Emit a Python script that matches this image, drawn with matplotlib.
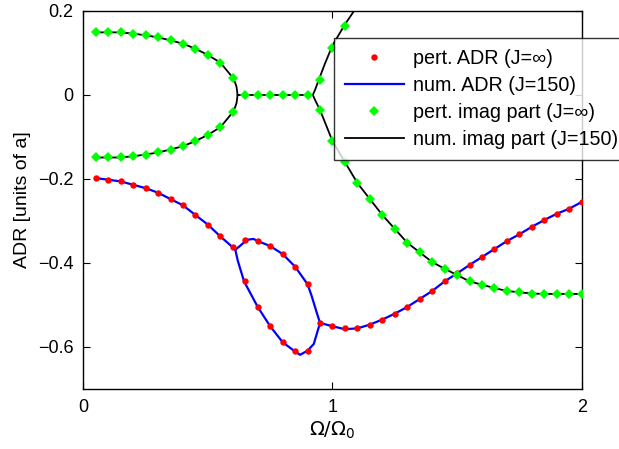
import numpy as np
import matplotlib
matplotlib.use("Agg")
import matplotlib.pyplot as plt

plt.rcParams['font.family'] = ['Liberation Sans', 'DejaVu Sans']

# perturbative ADR (J=inf), sampled every 0.05
x_pert_left = [0.05, 0.10, 0.15, 0.20, 0.25, 0.30, 0.35, 0.40, 0.45, 0.50, 0.55, 0.60]
adr_pert_left = [-0.198, -0.202, -0.206, -0.214, -0.222, -0.233, -0.248, -0.263,
                 -0.286, -0.309, -0.337, -0.363]
x_pert_loop = [0.65, 0.70, 0.75, 0.80, 0.85, 0.90]
adr_pert_upper = [-0.345, -0.348, -0.360, -0.379, -0.409, -0.451]
adr_pert_lower = [-0.444, -0.505, -0.551, -0.589, -0.609, -0.609]
x_pert_right = [0.95, 1.00, 1.05, 1.10, 1.15, 1.20, 1.25, 1.30, 1.35, 1.40, 1.45,
                1.50, 1.55, 1.60, 1.65, 1.70, 1.75, 1.80, 1.85, 1.90, 1.95, 2.00]
adr_pert_right = [-0.543, -0.550, -0.556, -0.555, -0.547, -0.535, -0.521, -0.505,
                  -0.486, -0.467, -0.444, -0.425, -0.405, -0.386, -0.367, -0.348,
                  -0.332, -0.314, -0.298, -0.283, -0.271, -0.255]

# numerical ADR (J=150): main branch and the lower half of the loop
x_num_a = (x_pert_left + [0.61, 0.63, 0.657, 0.683] + x_pert_loop[1:]
           + [0.917, 0.937] + x_pert_right)
adr_num_a = (adr_pert_left + [-0.369, -0.359, -0.345, -0.343] + adr_pert_upper[1:]
             + [-0.480, -0.519] + [-0.543, -0.551, -0.558, -0.556] + adr_pert_right[4:])
x_num_b = [0.61, 0.62, 0.645, 0.70, 0.75, 0.80, 0.845, 0.87, 0.90, 0.925, 0.95]
adr_num_b = [-0.369, -0.395, -0.444, -0.505, -0.551, -0.589, -0.609, -0.619,
             -0.609, -0.593, -0.543]

# perturbative imaginary part (J=inf)
im_pert_left = [0.149, 0.149, 0.149, 0.146, 0.142, 0.137, 0.130, 0.122,
                0.110, 0.095, 0.077, 0.041]
im_pert_mid = [0.0, 0.0, 0.0, 0.0, 0.0, 0.0]
x_pert_up = [0.95, 1.00, 1.05]
im_pert_up = [0.036, 0.111, 0.164]
im_pert_down = [-0.036, -0.110, -0.160, -0.210, -0.248, -0.286, -0.319, -0.352,
                -0.375, -0.398, -0.414, -0.429, -0.444, -0.452, -0.460, -0.467,
                -0.470, -0.473, -0.474, -0.474, -0.474, -0.474]

# numerical imaginary part (J=150)
x_im_left = x_pert_left + [0.61, 0.615, 0.619]
im_num_left = im_pert_left + [0.028, 0.019, 0.0]
x_im_mid = [0.619, 0.921]
im_num_mid = [0.0, 0.0]
x_im_right = [0.921, 0.93, 0.945, 0.97, 1.00, 1.05, 1.10]
im_num_up = [0.0, 0.012, 0.036, 0.075, 0.118, 0.168, 0.212]
x_im_down = [0.921, 0.93] + x_pert_right
im_num_down = [0.0, -0.012] + im_pert_down

fig = plt.figure(figsize=(6.19, 4.49), dpi=100)
ax = fig.add_axes([0.1346, 0.134, 0.8051, 0.8416])

red = dict(color='red', marker='o', ms=4.6, mew=0, ls='none')
green = dict(color='#00ff00', marker='D', ms=4.6, mew=0, ls='none')
blue = dict(color='blue', lw=1.6)
black = dict(color='black', lw=1.3)

ax.plot(x_pert_left, adr_pert_left, label='pert. ADR (J=\u221e)', zorder=4, **red)
ax.plot(x_num_a, adr_num_a, label='num. ADR (J=150)', zorder=3, **blue)
ax.plot(x_pert_left, im_pert_left, label='pert. imag part (J=\u221e)', zorder=4, **green)
ax.plot(x_im_left, im_num_left, label='num. imag part (J=150)', zorder=3, **black)

ax.plot(x_num_b, adr_num_b, zorder=3, **blue)
ax.plot(x_pert_loop, adr_pert_upper, zorder=4, **red)
ax.plot(x_pert_loop, adr_pert_lower, zorder=4, **red)
ax.plot(x_pert_right, adr_pert_right, zorder=4, **red)

ax.plot(x_im_left, [-v for v in im_num_left], zorder=3, **black)
ax.plot(x_im_mid, im_num_mid, zorder=3, **black)
ax.plot(x_im_right, im_num_up, zorder=3, **black)
ax.plot(x_im_down, im_num_down, zorder=3, **black)

ax.plot(x_pert_left, [-v for v in im_pert_left], zorder=4, **green)
ax.plot(x_pert_loop, im_pert_mid, zorder=4, **green)
ax.plot(x_pert_up, im_pert_up, zorder=4, **green)
ax.plot(x_pert_right, im_pert_down, zorder=4, **green)

ax.set_xlim(0, 2)
ax.set_ylim(-0.7, 0.2)
ax.set_xticks([0, 1, 2])
ax.set_yticks([-0.6, -0.4, -0.2, 0, 0.2])
ax.set_yticklabels(['\u22120.6', '\u22120.4', '\u22120.2', '0', '0.2'])
ax.tick_params(direction='in', top=True, right=True, length=5, width=0.8,
               labelsize=13, pad=7)
for s in ax.spines.values():
    s.set_linewidth(1.0)

ax.set_xlabel(r'$\Omega/\Omega_0$', fontsize=14, labelpad=3)
ax.set_ylabel('ADR [units of a]', fontsize=14, labelpad=5)

leg = ax.legend(loc='upper left', bbox_to_anchor=(334 / 619, 1 - 38 / 449),
                bbox_transform=fig.transFigure, fontsize=14.2, frameon=True,
                fancybox=False, borderaxespad=0, handlelength=3.0,
                borderpad=0.55, labelspacing=0.41, handletextpad=0.44,
                numpoints=1)
leg.get_frame().set_edgecolor('black')
leg.get_frame().set_linewidth(1.0)
leg.set_zorder(10)

fig.savefig('out.png', dpi=100)
